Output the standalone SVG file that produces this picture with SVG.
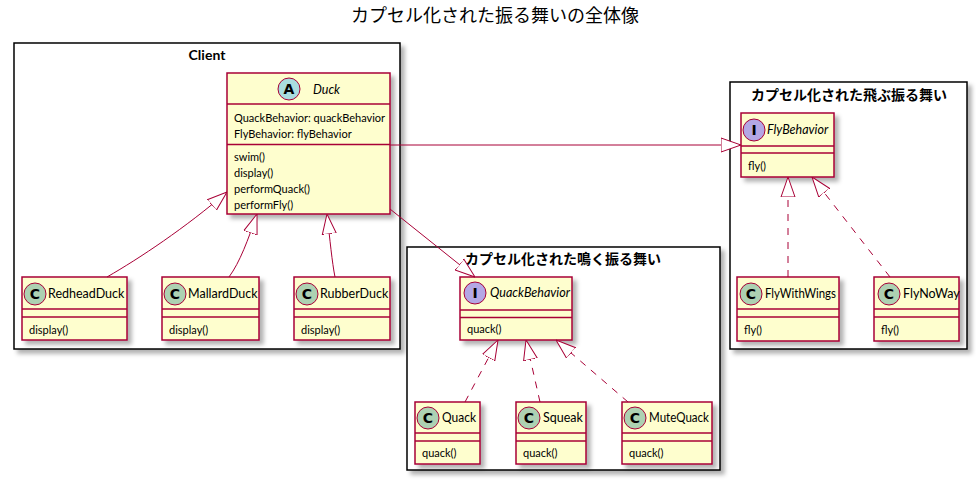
<svg xmlns="http://www.w3.org/2000/svg" width="976" height="483" viewBox="0 0 976 483">
<defs>
<filter id="sh" x="-10%" y="-10%" width="130%" height="130%">
<feDropShadow dx="4" dy="4" stdDeviation="2" flood-color="#000" flood-opacity="0.3"/>
</filter>
<marker id="tri" viewBox="0 0 20 16" refX="20" refY="8" markerWidth="20" markerHeight="16" markerUnits="userSpaceOnUse" orient="auto">
<path d="M0,1 L20,8 L0,15 Z" fill="#fff" stroke="#A80036" stroke-width="1"/>
</marker>
</defs>
<style>
.pkg{fill:#fff;stroke:#000;stroke-width:1.5;filter:url(#sh)}
.pl{font-family:Lato,"Noto Sans CJK JP",sans-serif;font-size:14px;font-weight:bold;text-anchor:middle;fill:#000}
.cls{fill:#FEFECE;stroke:#A80036;stroke-width:1.5;filter:url(#sh)}
.dv{stroke:#A80036;stroke-width:1.5}
.cn{font-family:Lato,sans-serif;font-size:12.5px;fill:#000}
.it{font-style:italic}
.m{font-family:Lato,sans-serif;font-size:11px;fill:#000}
.cc{fill:#ADD1B2;stroke:#A80036;stroke-width:1}
.ca{fill:#A9DCDF;stroke:#A80036;stroke-width:1}
.ci{fill:#B4A7E5;stroke:#A80036;stroke-width:1}
.cl{font-family:"DejaVu Sans",sans-serif;font-size:14px;font-weight:bold;text-anchor:middle;fill:#000}
.ln{fill:none;stroke:#A80036;stroke-width:1;marker-end:url(#tri)}
.ds{stroke-dasharray:7,7}
</style>
<text x="495" y="22" font-family="'Noto Sans CJK JP',sans-serif" font-size="18" text-anchor="middle">カプセル化された振る舞いの全体像</text>

<g id="pkg-client">
<rect class="pkg" x="14" y="43" width="386" height="306"/>
<text class="pl" x="207" y="60">Client</text>
</g>
<g id="pkg-fly">
<rect class="pkg" x="730" y="82" width="237" height="267"/>
<text class="pl" x="849" y="100">カプセル化された飛ぶ振る舞い</text>
</g>
<g id="pkg-quack">
<rect class="pkg" x="407" y="247" width="313" height="223"/>
<text class="pl" x="563" y="264">カプセル化された鳴く振る舞い</text>
</g>

<g id="Duck">
<rect class="cls" x="227" y="73" width="163" height="141"/>
<line class="dv" x1="227" y1="104" x2="390" y2="104"/>
<line class="dv" x1="227" y1="144.5" x2="390" y2="144.5"/>
<circle class="ca" cx="289" cy="89" r="11"/>
<text class="cl" x="289" y="94">A</text>
<text class="cn it" x="313" y="94">Duck</text>
<text class="m" x="234" y="122">QuackBehavior: quackBehavior</text>
<text class="m" x="234" y="138">FlyBehavior: flyBehavior</text>
<text class="m" x="234" y="161">swim()</text>
<text class="m" x="234" y="177">display()</text>
<text class="m" x="234" y="193">performQuack()</text>
<text class="m" x="234" y="209">performFly()</text>
</g>

<g id="RedheadDuck">
<rect class="cls" x="22" y="277" width="105" height="63"/>
<line class="dv" x1="22" y1="309" x2="127" y2="309"/>
<line class="dv" x1="22" y1="317" x2="127" y2="317"/>
<circle class="cc" cx="35" cy="294" r="11"/>
<text class="cl" x="35" y="299">C</text>
<text class="cn" x="48" y="298">RedheadDuck</text>
<text class="m" x="29" y="334">display()</text>
</g>
<g id="MallardDuck">
<rect class="cls" x="162" y="277" width="97" height="63"/>
<line class="dv" x1="162" y1="309" x2="259" y2="309"/>
<line class="dv" x1="162" y1="317" x2="259" y2="317"/>
<circle class="cc" cx="175" cy="294" r="11"/>
<text class="cl" x="175" y="299">C</text>
<text class="cn" x="188" y="298">MallardDuck</text>
<text class="m" x="169" y="334">display()</text>
</g>
<g id="RubberDuck">
<rect class="cls" x="294" y="277" width="96" height="63"/>
<line class="dv" x1="294" y1="309" x2="390" y2="309"/>
<line class="dv" x1="294" y1="317" x2="390" y2="317"/>
<circle class="cc" cx="307" cy="294" r="11"/>
<text class="cl" x="307" y="299">C</text>
<text class="cn" x="320" y="298">RubberDuck</text>
<text class="m" x="301" y="334">display()</text>
</g>

<g id="FlyBehavior">
<rect class="cls" x="741" y="113" width="93" height="64"/>
<line class="dv" x1="741" y1="146" x2="834" y2="146"/>
<line class="dv" x1="741" y1="153" x2="834" y2="153"/>
<circle class="ci" cx="754" cy="130" r="11"/>
<text class="cl" x="754" y="135">I</text>
<text class="cn it" x="767" y="134">FlyBehavior</text>
<text class="m" x="748" y="170">fly()</text>
</g>
<g id="FlyWithWings">
<rect class="cls" x="737" y="277" width="102" height="64"/>
<line class="dv" x1="737" y1="309" x2="839" y2="309"/>
<line class="dv" x1="737" y1="317" x2="839" y2="317"/>
<circle class="cc" cx="751" cy="294" r="11"/>
<text class="cl" x="751" y="299">C</text>
<text class="cn" x="765" y="298" textLength="71" lengthAdjust="spacingAndGlyphs">FlyWithWings</text>
<text class="m" x="744" y="334">fly()</text>
</g>
<g id="FlyNoWay">
<rect class="cls" x="874" y="277" width="85" height="64"/>
<line class="dv" x1="874" y1="309" x2="959" y2="309"/>
<line class="dv" x1="874" y1="317" x2="959" y2="317"/>
<circle class="cc" cx="889" cy="294" r="11"/>
<text class="cl" x="889" y="299">C</text>
<text class="cn" x="903" y="298">FlyNoWay</text>
<text class="m" x="881" y="334">fly()</text>
</g>

<g id="QuackBehavior">
<rect class="cls" x="460" y="277" width="112" height="63"/>
<line class="dv" x1="460" y1="310" x2="572" y2="310"/>
<line class="dv" x1="460" y1="317.5" x2="572" y2="317.5"/>
<circle class="ci" cx="475" cy="293" r="11"/>
<text class="cl" x="475" y="298">I</text>
<text class="cn it" x="490" y="297">QuackBehavior</text>
<text class="m" x="467" y="333">quack()</text>
</g>
<g id="Quack">
<rect class="cls" x="415" y="402" width="65" height="62"/>
<line class="dv" x1="415" y1="433" x2="480" y2="433"/>
<line class="dv" x1="415" y1="441" x2="480" y2="441"/>
<circle class="cc" cx="428" cy="418" r="11"/>
<text class="cl" x="428" y="423">C</text>
<text class="cn" x="442" y="422" textLength="34" lengthAdjust="spacingAndGlyphs">Quack</text>
<text class="m" x="422" y="457">quack()</text>
</g>
<g id="Squeak">
<rect class="cls" x="516" y="402" width="70" height="62"/>
<line class="dv" x1="516" y1="433" x2="586" y2="433"/>
<line class="dv" x1="516" y1="441" x2="586" y2="441"/>
<circle class="cc" cx="529" cy="418" r="11"/>
<text class="cl" x="529" y="423">C</text>
<text class="cn" x="543" y="422">Squeak</text>
<text class="m" x="523" y="457">quack()</text>
</g>
<g id="MuteQuack">
<rect class="cls" x="622" y="402" width="90" height="62"/>
<line class="dv" x1="622" y1="433" x2="712" y2="433"/>
<line class="dv" x1="622" y1="441" x2="712" y2="441"/>
<circle class="cc" cx="635" cy="418" r="11"/>
<text class="cl" x="635" y="423">C</text>
<text class="cn" x="649" y="422" textLength="60" lengthAdjust="spacingAndGlyphs">MuteQuack</text>
<text class="m" x="629" y="457">quack()</text>
</g>

<g id="connectors">
<path class="ln" d="M107,277 C140,258 185,228 227,192"/>
<path class="ln" d="M229,277 C240,262 248,240 257,214"/>
<path class="ln" d="M335,277 C332,262 330,240 327,214"/>
<path class="ln" d="M390,145 L741,145"/>
<path class="ln" d="M390,209 L475,277"/>
<path class="ln ds" d="M788,277 L788,177"/>
<path class="ln ds" d="M890,277 L812,177"/>
<path class="ln ds" d="M465,402 L498,340"/>
<path class="ln ds" d="M540,402 L526,340"/>
<path class="ln ds" d="M628,402 L556,340"/>
</g>
</svg>
